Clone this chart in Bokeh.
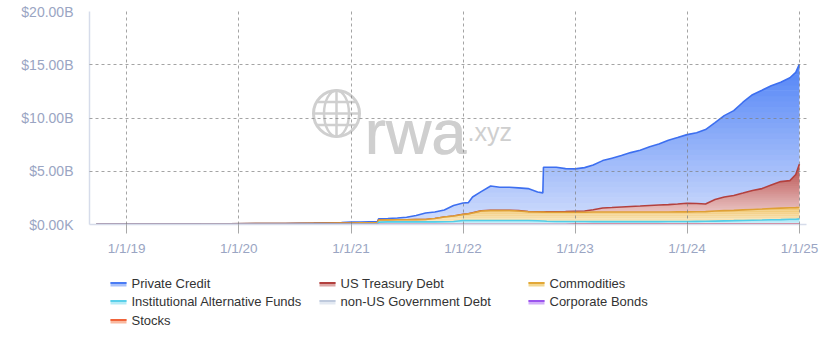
import numpy as np
import pandas as pd
from bokeh.plotting import figure
from bokeh.models import Range1d, FixedTicker, CustomJSTickFormatter
from bokeh.layouts import column
from bokeh.embed import file_html
from bokeh.resources import INLINE
from bokeh.core.properties import value

# ---------------- data (billions USD) ----------------
dates = ["2018-09-25", "2018-12-01", "2019-03-01", "2019-06-01", "2019-09-01", "2019-12-01",
         "2020-03-01", "2020-06-01", "2020-09-01", "2020-12-01", "2021-01-01", "2021-02-01",
         "2021-03-01", "2021-03-28", "2021-04-01", "2021-05-01", "2021-06-01", "2021-07-01",
         "2021-08-01", "2021-09-01", "2021-10-01", "2021-11-01", "2021-12-01", "2022-01-01",
         "2022-01-18", "2022-02-01", "2022-03-01", "2022-04-01", "2022-05-01", "2022-06-01",
         "2022-07-01", "2022-08-01", "2022-09-01", "2022-09-18", "2022-09-20", "2022-10-01",
         "2022-11-01", "2022-12-01", "2023-01-01", "2023-02-01", "2023-03-01", "2023-04-01",
         "2023-05-01", "2023-06-01", "2023-07-01", "2023-08-01", "2023-09-01", "2023-10-01",
         "2023-11-01", "2023-12-01", "2024-01-01", "2024-02-01", "2024-03-01", "2024-04-01",
         "2024-05-01", "2024-06-01", "2024-07-01", "2024-08-01", "2024-09-01", "2024-10-01",
         "2024-11-01", "2024-12-01", "2024-12-20", "2025-01-01"]

private_credit = [0, 0, 0, 0, 0, 0.005, 0.01, 0.01, 0.02, 0.05, 0.10, 0.09,
                  0.09, 0.09, 0.11, 0.13, 0.17, 0.23, 0.39, 0.61, 0.61, 0.66, 0.98, 1.07,
                  1.04, 1.49, 1.81, 2.28, 2.17, 2.16, 2.14, 2.15, 1.85, 1.78, 4.18, 4.18,
                  4.17, 4.03, 3.97, 4.07, 4.20, 4.45, 4.64, 4.83, 5.06, 5.25, 5.53, 5.72,
                  6.05, 6.24, 6.44, 6.65, 6.99, 7.22, 7.64, 7.97, 8.53, 9.00, 9.24, 9.33,
                  9.33, 9.66, 9.59, 9.37]

us_treasury_debt = [0, 0, 0, 0, 0, 0, 0, 0, 0, 0, 0, 0,
                    0, 0, 0, 0, 0, 0, 0, 0, 0, 0, 0, 0.01,
                    0.01, 0.01, 0.01, 0.02, 0.02, 0.03, 0.03, 0.03, 0.03, 0.03, 0.03, 0.04,
                    0.05, 0.07, 0.10, 0.12, 0.21, 0.38, 0.42, 0.47, 0.52, 0.56, 0.61, 0.65,
                    0.69, 0.73, 0.81, 0.77, 0.71, 1.07, 1.28, 1.39, 1.58, 1.78, 1.92, 2.20,
                    2.49, 2.55, 3.11, 4.09]

commodities = [0, 0, 0, 0, 0.005, 0.02, 0.03, 0.04, 0.05, 0.06, 0.07, 0.08,
               0.09, 0.09, 0.20, 0.18, 0.19, 0.20, 0.21, 0.22, 0.31, 0.44, 0.52, 0.565,
               0.625, 0.705, 0.895, 0.935, 0.935, 0.935, 0.895, 0.815, 0.82, 0.83, 0.83, 0.85,
               0.87, 0.87, 0.87, 0.87, 0.90, 0.90, 0.90, 0.90, 0.90, 0.90, 0.90, 0.91,
               0.90, 0.91, 0.91, 0.91, 0.91, 0.95, 0.96, 0.97, 0.99, 1.01, 1.03, 1.06,
               1.08, 1.08, 1.08, 1.07]

institutional_alternative_funds = [0.05, 0.05, 0.05, 0.05, 0.05, 0.05, 0.05, 0.05, 0.06, 0.07, 0.07, 0.07,
                                   0.07, 0.07, 0.22, 0.25, 0.25, 0.25, 0.25, 0.25, 0.25, 0.26, 0.28, 0.375,
                                   0.375, 0.375, 0.375, 0.375, 0.375, 0.375, 0.375, 0.375, 0.35, 0.33, 0.33, 0.30,
                                   0.28, 0.28, 0.27, 0.27, 0.26, 0.26, 0.26, 0.26, 0.26, 0.26, 0.25, 0.25,
                                   0.26, 0.26, 0.25, 0.26, 0.27, 0.28, 0.30, 0.32, 0.34, 0.36, 0.38, 0.40,
                                   0.42, 0.45, 0.46, 0.49]

non_us_government_debt = [0] * 50 + [0.01] * 14

corporate_bonds = [0] * 53 + [0.01] * 11

stocks = [0] * 38 + [0.01] * 8 + [0.02] * 18

series_names = ["Private Credit", "US Treasury Debt", "Commodities",
                "Institutional Alternative Funds", "non-US Government Debt",
                "Corporate Bonds", "Stocks"]
tick_dates = ["2019-01-01", "2020-01-01", "2021-01-01", "2022-01-01",
              "2023-01-01", "2024-01-01", "2025-01-01"]
y_ticks = [0, 5, 10, 15, 20]

# ---------------- styles ----------------
line_colors = ["#3d6ff0", "#b3403e", "#dfa035", "#52cde8", "#c3cedf", "#9b55ee", "#ec5a36"]
grad_top = [(82, 132, 246), (182, 74, 72), (237, 186, 82), (112, 212, 238)]
grad_bot = [(210, 222, 252), (246, 226, 226), (250, 236, 200), (204, 239, 248)]
flat_fill = ["#dbe2ee", "#c4a0f4", "#f59373"]
legend_top = ["#4a7cf4", "#b2403e", "#e2a838", "#5ad0ea", "#bfcadd", "#9b55ee", "#f0643a"]
legend_bot = ["#a9c1fa", "#dca6a5", "#f3d790", "#b5ebf6", "#e3e9f2", "#d2b0f8", "#f9b9a0"]

FONT = "Liberation Sans"
LABEL_COLOR = "#9aa5c3"

x = pd.to_datetime(dates).values.astype("datetime64[ms]").astype("int64").astype(float)
x_start = float(pd.Timestamp("2018-09-02").value // 10**6)
x_end = float(pd.Timestamp("2025-01-24").value // 10**6)

FRAME_L, FRAME_T, FRAME_W, FRAME_H = 89, 11, 717, 213
ms_per_px = (x_end - x_start) / FRAME_W


def px_x(px):
    return x_start + (px - FRAME_L) * ms_per_px


def px_y(py):
    return (FRAME_T + FRAME_H - py) / FRAME_H * 20.0


p = figure(frame_width=FRAME_W, frame_height=FRAME_H,
           min_border_left=FRAME_L, min_border_right=822 - FRAME_L - FRAME_W,
           min_border_top=FRAME_T, min_border_bottom=34,
           x_axis_type="datetime", x_range=Range1d(x_start, x_end), y_range=Range1d(0, 20),
           output_backend="svg", toolbar_location=None)
p.outline_line_color = None
p.background_fill_color = "white"
p.border_fill_color = "white"

# ---------------- watermark ----------------
WM = "#cfcfcf"
gx, gy = px_x(336), px_y(113)
p.circle(x=[gx], y=[gy], radius=23, radius_units="screen", fill_color=None,
         line_color=WM, line_width=3, level="image")
p.ellipse(x=[gx], y=[gy], width=25, height=46, width_units="screen", height_units="screen",
          fill_color=None, line_color=WM, line_width=2.5, level="image")
p.segment(x0=[px_x(336), px_x(313), px_x(316), px_x(316)],
          y0=[px_y(90), px_y(113), px_y(101.5), px_y(124.5)],
          x1=[px_x(336), px_x(359), px_x(356), px_x(356)],
          y1=[px_y(136), px_y(113), px_y(101.5), px_y(124.5)],
          line_color=WM, line_width=2.5, level="image")
for dx in (0.0, 0.8):
    p.text(x=[px_x(364 + dx)], y=[px_y(131)], text=["rwa"], text_font=value(FONT),
           text_font_size="63px", text_color=WM, text_baseline="alphabetic", level="image")
p.text(x=[px_x(467)], y=[px_y(131)], text=[".xyz"], text_font=value(FONT),
       text_font_size="25px", text_color=WM, text_baseline="alphabetic", level="image")

# ---------------- stacked areas ----------------
vals = [np.array(v, dtype=float) for v in
        [private_credit, us_treasury_debt, commodities, institutional_alternative_funds,
         non_us_government_debt, corporate_bonds, stocks]]
# stack bottom -> top: stocks, corporate bonds, non-US, IAF, commodities, UST, PC
lows, highs = [None] * 7, [None] * 7
base = np.zeros_like(x)
for i in range(6, -1, -1):
    lows[i] = base.copy()
    highs[i] = base + vals[i]
    base = highs[i]


def mix(c_bot, c_top, f):
    return "#%02x%02x%02x" % tuple(int(round(a + (b - a) * f)) for a, b in zip(c_bot, c_top))


def grad_area(lo, hi, ctop, cbot, n=30):
    vmax = hi.max()
    edges = np.linspace(0, vmax, n + 1)
    eps = vmax / n * 0.12
    for k in range(n):
        L, H = edges[k], edges[k + 1] + (eps if k < n - 1 else 0)
        xx = list(x)
        for f in (lo, hi):
            for lev in (L, H):
                d = f - lev
                idx = np.where(d[:-1] * d[1:] < 0)[0]
                for j in idx:
                    xx.append(x[j] + (x[j + 1] - x[j]) * d[j] / (d[j] - d[j + 1]))
        xx = np.unique(np.array(xx))
        y1 = np.clip(np.interp(xx, x, lo), L, H)
        y2 = np.clip(np.interp(xx, x, hi), L, H)
        if not np.any(y2 - y1 > 1e-9):
            continue
        p.varea(x=xx, y1=y1, y2=y2, fill_color=mix(cbot, ctop, (k + 0.5) / n))


for i in range(7):
    if i < 4:
        grad_area(lows[i], highs[i], grad_top[i], grad_bot[i])
    else:
        p.varea(x=x, y1=lows[i], y2=highs[i], fill_color=flat_fill[i - 4])
    p.line(x=x, y=highs[i], line_color=line_colors[i], line_width=1.6)

# ---------------- axes & grid ----------------
tick_ms = [float(pd.Timestamp(d).value // 10**6) for d in tick_dates]
p.xaxis.ticker = FixedTicker(ticks=tick_ms)
p.xaxis.formatter = CustomJSTickFormatter(code="""
const d = new Date(tick);
return (d.getUTCMonth() + 1) + "/" + d.getUTCDate() + "/" + String(d.getUTCFullYear()).slice(2);
""")
p.yaxis.ticker = FixedTicker(ticks=y_ticks)
p.yaxis.formatter = CustomJSTickFormatter(code="""
return tick == 0 ? "$0.00K" : "$" + tick.toFixed(2) + "B";
""")
p.ygrid.ticker = FixedTicker(ticks=y_ticks[1:])

for ax in (p.xaxis[0], p.yaxis[0]):
    ax.axis_line_color = "#d6dcea"
    ax.axis_line_width = 1.5
    ax.minor_tick_line_color = None
    ax.major_label_text_font = FONT
    ax.major_label_text_color = LABEL_COLOR
p.xaxis.major_tick_out = 9
p.xaxis.major_tick_in = 0
p.xaxis.major_tick_line_color = "#a8a8a8"
p.xaxis.major_label_standoff = 7
p.xaxis.major_label_text_font_size = "13.5px"
p.yaxis.major_tick_out = 0
p.yaxis.major_tick_in = 0
p.yaxis.major_tick_line_color = None
p.yaxis.major_label_standoff = 16
p.yaxis.major_label_text_font_size = "14px"

for g in (p.xgrid[0], p.ygrid[0]):
    g.grid_line_color = "#7d7d7d"
    g.grid_line_alpha = 0.7
    g.grid_line_dash = "3 3"
    g.grid_line_width = 1
    g.level = "annotation"

# ---------------- legend (separate strip, x in page pixels) ----------------
lg = figure(frame_width=FRAME_W, frame_height=80,
            x_range=Range1d(FRAME_L, FRAME_L + FRAME_W), y_range=Range1d(80, 0),
            min_border_left=FRAME_L, min_border_right=822 - FRAME_L - FRAME_W,
            min_border_top=0, min_border_bottom=0,
            x_axis_location=None, y_axis_location=None,
            output_backend="svg", toolbar_location=None)
lg.outline_line_color = None
lg.background_fill_color = "white"
lg.border_fill_color = "white"
lg.grid.visible = False

col_x = [110, 319, 528]
row_y = [25, 43, 62]
lx, ly = [], []
for i in range(7):
    lx.append(col_x[i % 3])
    ly.append(row_y[i // 3])
lx = np.array(lx, dtype=float)
ly = np.array(ly, dtype=float)
lg.quad(left=lx, right=lx + 16, top=ly - 1.5, bottom=ly + 3, fill_color=legend_bot, line_color=None)
lg.quad(left=lx, right=lx + 16, top=ly - 1.5, bottom=ly + 0.5, fill_color=legend_top, line_color=None)
lg.text(x=lx + 21, y=ly, text=series_names, text_font=value(FONT), text_font_size="13px",
        text_color="#333333", text_baseline="middle", text_align="left")

layout = column(p, lg, spacing=0)
open("out.html", "w").write(file_html(layout, INLINE))
